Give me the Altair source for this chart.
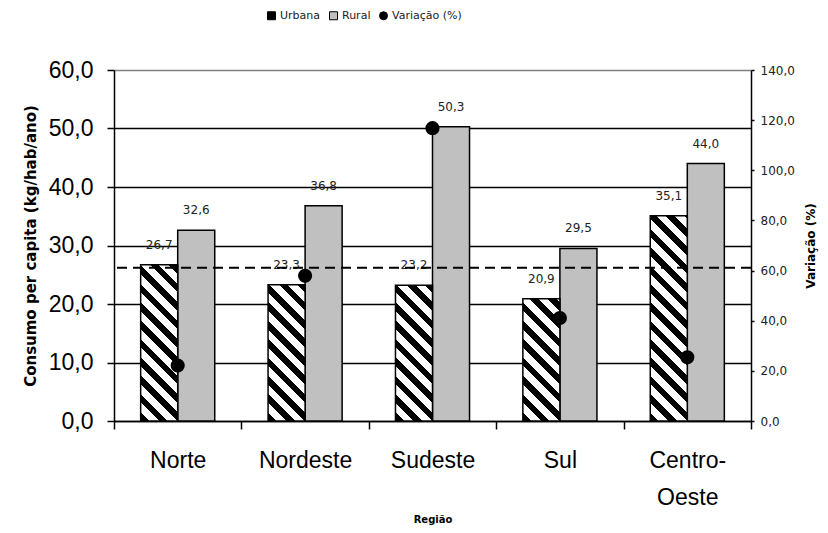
import math
import altair as alt
import pandas as pd

# ---------------- data ----------------
regioes = ["Norte", "Nordeste", "Sudeste", "Sul", "Centro-Oeste"]
urbana = [26.7, 23.3, 23.2, 20.9, 35.1]
rural = [32.6, 36.8, 50.3, 29.5, 44.0]
variacao = [22.1, 57.9, 116.8, 41.1, 25.4]
linha_tracejada = [26.2]
series = ["Urbana", "Rural", "Variação (%)"]
ticks_esq = [0, 10, 20, 30, 40, 50, 60]
ticks_dir = [0, 20, 40, 60, 80, 100, 120, 140]

# ---------------- layout ----------------
W, H = 637, 351
Y_MAX_L, Y_MAX_R = 60, 140
OFF_PAD = 0.72  # outer padding of the Urbana/Rural offset band

bars = pd.DataFrame({
    "Regiao": regioes * 2,
    "Serie": ["Urbana"] * len(regioes) + ["Rural"] * len(regioes),
    "Valor": urbana + rural,
})
pts = pd.DataFrame({"Regiao": regioes, "Serie": [series[2]] * len(regioes), "Valor": variacao})
ref = pd.DataFrame({"Valor": linha_tracejada})

fmt = "replace(format(datum.value, '.1f'), '.', ',')"


def hatch(w_px, h_px, period=13.0, black=0.47):
    """Diagonal (top-left -> bottom-right) stripes as a hard-stop linear gradient."""
    s = (w_px + h_px) / (w_px ** 2 + h_px ** 2)
    x2 = s * w_px
    y2 = 1 - s * h_px
    D = (w_px + h_px) / math.sqrt(2)
    q = period / D
    stops = []
    t = 0.0
    while t < 1:
        a = round(t, 5)
        b = round(min(t + q * black, 1), 5)
        c = round(min(t + q, 1), 5)
        stops += [(a, "#000000"), (b, "#000000"), (b, "#ffffff"), (c, "#ffffff")]
        t += q
    return {
        "gradient": "linear",
        "x1": 0, "y1": 1, "x2": round(x2, 5), "y2": round(y2, 5),
        "stops": [{"offset": o, "color": col} for o, col in stops],
    }


axis_x = alt.Axis(
    title="Região",
    labelExpr="datum.value == 'Centro-Oeste' ? ['Centro-', 'Oeste'] : datum.value",
    labelAngle=0, labelFont="Liberation Sans", labelFontSize=23, labelColor="black",
    labelLineHeight=37, labelPadding=20,
    tickBand="extent", tickSize=8, tickColor="black", tickWidth=1.5,
    domainColor="black", domainWidth=1.5,
    titleFont="DejaVu Sans", titleFontSize=10, titleFontWeight="bold", titleColor="black",
    titleY=98, titleBaseline="middle",
)
x_enc = alt.X("Regiao:N", scale=alt.Scale(domain=regioes, paddingInner=0, paddingOuter=0), axis=axis_x)
xoff = alt.XOffset("Serie:N", scale=alt.Scale(domain=["Urbana", "Rural"], paddingInner=0, paddingOuter=OFF_PAD))

axis_l = alt.Axis(
    orient="left", title="Consumo per capita (kg/hab/ano)", values=ticks_esq, labelExpr=fmt,
    labelFont="Liberation Sans", labelFontSize=23, labelColor="black", labelPadding=14,
    tickSize=7, tickColor="black", tickWidth=1.5, domainColor="black", domainWidth=1.5,
    grid=True,
    gridColor={"condition": {"test": "datum.value >= 60", "value": "#808080"}, "value": "black"},
    gridWidth=1.5,
    titleFont="DejaVu Sans", titleFontSize=15, titleFontWeight="bold", titleColor="black",
    titlePadding=10,
)
y_left = alt.Y("Valor:Q", scale=alt.Scale(domain=[0, Y_MAX_L], nice=False), axis=axis_l)

axis_r = alt.Axis(
    orient="right", title="Variação (%)", values=ticks_dir, labelExpr=fmt,
    labelFont="DejaVu Sans", labelFontSize=12, labelColor="#222222", labelPadding=6,
    tickSize=3, tickColor="black", tickWidth=1.5, domainColor="black", domainWidth=1.5,
    grid=False,
    titleFont="DejaVu Sans", titleFontSize=12, titleFontWeight="bold", titleColor="black",
    titleAngle=270, titlePadding=23,
)
y_right = alt.Y("Valor:Q", scale=alt.Scale(domain=[0, Y_MAX_R], nice=False), axis=axis_r)

fill_scale = alt.Scale(domain=series, range=["#000000", "#c0c0c0", "#000000"])
shape_scale = alt.Scale(domain=series, range=["square", "square", "circle"])
legend = alt.Legend(
    title=None, orient="none", legendX=152, legendY=-60, direction="horizontal",
    labelFont="DejaVu Sans", labelFontSize=11, labelColor="#222222",
    symbolSize=64, symbolStrokeColor="black", symbolStrokeWidth=1,
    labelOffset=3, columnPadding=6, padding=0,
)

base = alt.Chart(bars)

rural_layer = base.transform_filter("datum.Serie == 'Rural'").mark_bar(
    stroke="black", strokeWidth=1.5
).encode(
    x=x_enc, xOffset=xoff, y=y_left,
    fill=alt.Fill("Serie:N", scale=fill_scale, legend=legend),
)

bw = (W / len(regioes)) / (2 + 2 * OFF_PAD)
urb_layers = []
for r, v in zip(regioes, urbana):
    grad = hatch(bw, v * H / Y_MAX_L)
    urb_layers.append(
        base.transform_filter(f"datum.Serie == 'Urbana' && datum.Regiao == '{r}'")
        .mark_bar(fill=grad, stroke="black", strokeWidth=1.5)
        .encode(x=x_enc, xOffset=xoff, y=y_left)
    )

text_layer = base.transform_calculate(
    lbl="replace(format(datum.Valor, '.1f'), '.', ',')"
).mark_text(
    dy=-20, baseline="middle", font="DejaVu Sans", fontSize=12, color="#222222"
).encode(x=x_enc, xOffset=xoff, y=y_left, text="lbl:N")

rule_layer = alt.Chart(ref).mark_rule(
    color="black", strokeWidth=2, strokeDash=[10, 6]
).encode(y=y_left)

left = alt.layer(rural_layer, *urb_layers, text_layer, rule_layer)

pts_layer = alt.Chart(pts).mark_point(filled=True, size=200, opacity=1, strokeWidth=0).encode(
    x=x_enc, y=y_right,
    fill=alt.Fill("Serie:N", scale=fill_scale, legend=legend),
    shape=alt.Shape("Serie:N", scale=shape_scale, legend=legend),
)

chart = alt.layer(left, pts_layer).resolve_scale(y="independent").properties(
    width=W, height=H,
    padding={"left": 106, "top": 62, "right": 69, "bottom": 104},
    autosize=alt.AutoSizeParams(type="none"),
    background="white",
).configure_view(stroke=None)

chart.save("out.html", embed_options={"renderer": "svg", "actions": False})
